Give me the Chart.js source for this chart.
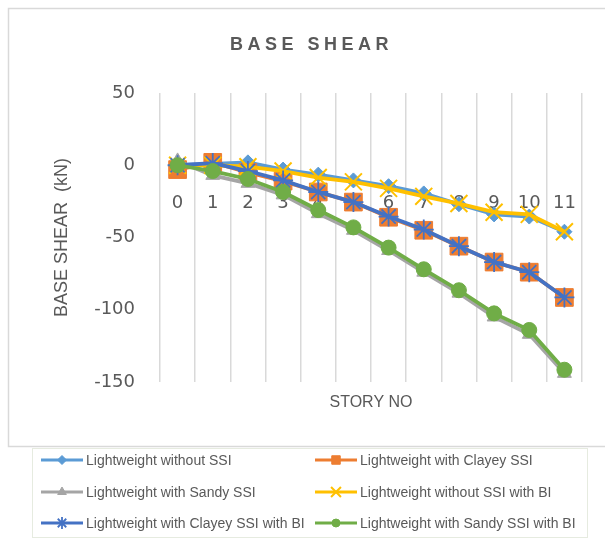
<!DOCTYPE html>
<html>
<head>
<meta charset="utf-8">
<script src="https://cdn.jsdelivr.net/npm/chart.js@4/dist/chart.umd.min.js"></script>
<style>
html,body{margin:0;padding:0;background:#fff;}
#wrap{width:605px;height:540px;position:relative;}
</style>
</head>
<body>
<div id="wrap"><canvas id="c" width="605" height="540"></canvas></div>
<script>
// ---- data ----
const storyLabels = ['0','1','2','3','4','5','6','7','8','9','10','11'];
const yTickValues = [50, 0, -50, -100, -150];

const seriesNames = [
  'Lightweight without SSI',
  'Lightweight with Clayey SSI',
  'Lightweight with Sandy SSI',
  'Lightweight without SSI with BI',
  'Lightweight with Clayey SSI with BI',
  'Lightweight with Sandy SSI with BI'
];
const lwWithoutSSI        = [0, 1, 2, -3, -6.5, -10.5, -14.5, -19.5, -27, -34, -35.5, -46];
const lwClayeySSI         = [-3, 2, -5, -11, -18.5, -25.5, -36, -45, -56, -67, -74, -91.5];
const lwSandySSI          = [3, -7, -12.5, -20.5, -33.5, -45, -59, -74, -88.5, -105, -117, -144];
const lwWithoutSSIwithBI  = [0, 0, -1, -4, -8.5, -11.5, -16, -21.5, -26.5, -32.5, -34, -46];
const lwClayeySSIwithBI   = [0, 1.5, -4, -10.5, -18.5, -25.5, -35.5, -44.5, -56, -67, -74, -91.5];
const lwSandySSIwithBI    = [0, -4, -9.5, -18.5, -31, -43, -57, -72, -86.5, -102.5, -114, -141.5];

const chartTitle = 'BASE SHEAR';
const yTitle = 'BASE SHEAR  (kN)';
const xTitle = 'STORY NO';

// ---- styles ----
const styles = [
  {color:'#5B9BD5', pointStyle:'rectRot', radius:7.5, legendRadius:4.5, borderWidth:1},
  {color:'#ED7D31', pointStyle:'rect', radius:12.5, legendRadius:6, borderWidth:1},
  {color:'#A5A5A5', pointStyle:'triangle', radius:8, legendRadius:5, borderWidth:1},
  {color:'#FFC000', pointStyle:'crossRot', radius:12, legendRadius:7, borderWidth:2},
  {color:'#4472C4', pointStyle:'star', radius:10, legendRadius:6, borderWidth:1.8},
  {color:'#70AD47', pointStyle:'circle', radius:7.5, legendRadius:4, borderWidth:1}
];
const allSeries = [lwWithoutSSI, lwClayeySSI, lwSandySSI, lwWithoutSSIwithBI, lwClayeySSIwithBI, lwSandySSIwithBI];

const datasets = allSeries.map((vals, i) => ({
  label: seriesNames[i],
  data: vals,
  xAxisID: 'x',
  yAxisID: 'y',
  borderColor: styles[i].color,
  backgroundColor: styles[i].color,
  borderWidth: 3.8,
  pointStyle: styles[i].pointStyle,
  pointRadius: styles[i].radius,
  pointBorderWidth: styles[i].borderWidth,
  pointBackgroundColor: styles[i].color,
  pointBorderColor: styles[i].color,
  tension: 0,
  order: 10 - i,
  legendRadius: styles[i].legendRadius
}));

const TEXT = '#595959';
const GRID = '#d9d9d9';

const decor = {
  id: 'decor',
  beforeDraw(chart) {
    const ctx = chart.ctx;
    ctx.save();
    ctx.fillStyle = '#fff';
    ctx.fillRect(0, 0, chart.width, chart.height);
    ctx.strokeStyle = GRID;
    ctx.lineWidth = 1.5;
    ctx.strokeRect(8.5, 8.5, 620, 438);
    ctx.strokeStyle = '#e6ebe0';
    ctx.lineWidth = 1;
    ctx.strokeRect(32.5, 448.5, 555, 89);
    ctx.restore();
  },
  afterDraw(chart) {
    const ctx = chart.ctx;
    ctx.save();
    ctx.fillStyle = TEXT;
    ctx.font = 'bold 18px "Liberation Sans", Arial, sans-serif';
    ctx.textAlign = 'center';
    ctx.textBaseline = 'middle';
    try { ctx.letterSpacing = '4.5px'; } catch (e) {}
    ctx.fillText(chartTitle, 311.5, 45);
    try { ctx.letterSpacing = '0px'; } catch (e) {}
    const colLine = [41, 315];
    const rowY = [460, 492, 523];
    ctx.font = '14px "Liberation Sans", Arial, sans-serif';
    ctx.textAlign = 'left';
    chart.data.datasets.forEach((ds, i) => {
      const col = i % 2, row = Math.floor(i / 2);
      const x0 = colLine[col], y = rowY[row];
      ctx.strokeStyle = ds.borderColor;
      ctx.lineWidth = 3;
      ctx.beginPath();
      ctx.moveTo(x0, y);
      ctx.lineTo(x0 + 42, y);
      ctx.stroke();
      ctx.fillStyle = ds.pointBackgroundColor;
      ctx.strokeStyle = ds.pointBorderColor;
      ctx.lineWidth = ds.pointBorderWidth;
      Chart.helpers.drawPoint(ctx, {pointStyle: ds.pointStyle, rotation: 0, radius: ds.legendRadius, borderWidth: ds.pointBorderWidth}, x0 + 21, y);
      ctx.fillStyle = TEXT;
      ctx.fillText(ds.label, x0 + 45, y + 1);
    });
    ctx.restore();
  }
};

new Chart(document.getElementById('c'), {
  type: 'line',
  data: { labels: storyLabels, datasets },
  options: {
    responsive: false,
    animation: false,
    devicePixelRatio: 1,
    layout: { padding: { top: 93, right: 23, bottom: 118, left: 0 } },
    plugins: { legend: { display: false }, title: { display: false }, tooltip: { enabled: false } },
    scales: {
      x: {
        type: 'category',
        position: 'bottom',
        offset: true,
        grid: { display: true, color: GRID, lineWidth: 1.5, offset: true, drawTicks: false },
        border: { display: false },
        ticks: { display: false },
        title: { display: true, text: xTitle, color: TEXT, font: { family: '"Liberation Sans", Arial, sans-serif', size: 16 }, padding: { top: 0, bottom: 10 } },
        afterFit: (s) => { s.height = 40; }
      },
      x2: {
        type: 'category',
        labels: storyLabels,
        position: { y: 0 },
        offset: true,
        grid: { display: false, drawTicks: false },
        border: { display: false },
        ticks: { color: TEXT, font: { family: '"DejaVu Sans", sans-serif', size: 18 }, padding: 27, maxRotation: 0, autoSkip: false }
      },
      y: {
        type: 'linear',
        position: 'left',
        min: -150,
        max: 50,
        afterBuildTicks: (s) => { s.ticks = yTickValues.map(v => ({ value: v })); },
        grid: { display: false, drawTicks: false },
        border: { display: false },
        ticks: { color: TEXT, font: { family: '"DejaVu Sans", sans-serif', size: 18 }, padding: 25 },
        title: { display: true, text: yTitle, color: TEXT, font: { family: '"Liberation Sans", Arial, sans-serif', size: 18 }, padding: { top: 51, bottom: 0 } },
        afterFit: (s) => { s.width = 160; }
      }
    }
  },
  plugins: [decor]
});
</script>
</body>
</html>
